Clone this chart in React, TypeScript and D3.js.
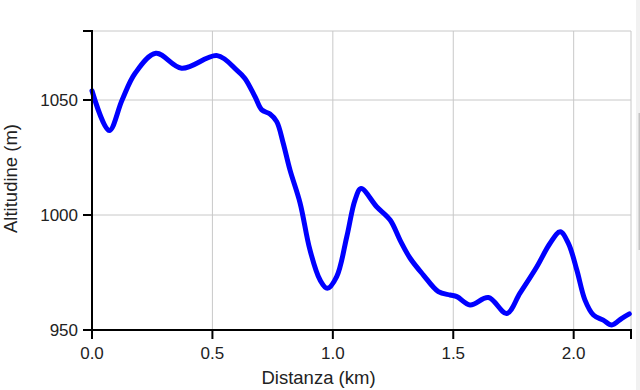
import React from "react";
import * as d3 from "d3";

const distanceKm = [0, 0.071, 0.125, 0.179, 0.265, 0.372, 0.52, 0.601, 0.635, 0.677, 0.705, 0.739, 0.767, 0.794, 0.822, 0.864, 0.905, 0.947, 0.977, 1.016, 1.058, 1.092, 1.117, 1.182, 1.238, 1.279, 1.321, 1.376, 1.438, 1.487, 1.515, 1.57, 1.646, 1.722, 1.777, 1.847, 1.902, 1.944, 1.978, 2.013, 2.047, 2.082, 2.123, 2.158, 2.2, 2.231];
const altitudeM = [1054, 1036.7, 1050, 1061.6, 1070.3, 1063.8, 1069.3, 1063, 1059.4, 1051.4, 1045.7, 1043.9, 1040.6, 1031.2, 1019.6, 1005.2, 984.8, 971.7, 968.1, 973.2, 990.6, 1006.5, 1011.5, 1003.6, 997.8, 989.1, 981.2, 973.9, 966.7, 965.2, 964.5, 960.9, 964.1, 957.2, 966, 977.5, 987.7, 992.7, 987.7, 976.1, 963, 956.5, 954.3, 952.2, 955.1, 957];
const xTicks = [0, 0.5, 1.0, 1.5, 2.0];
const yTicks = [950, 1000, 1050];
const xLabel = "Distanza (km)";
const yLabel = "Altitudine (m)";

const W = 640, H = 390;
const M = { left: 92, right: 9, top: 31, bottom: 60 };

export default function App() {
  const x = d3.scaleLinear().domain([0, 2.238]).range([M.left, W - M.right]);
  const y = d3.scaleLinear().domain([950, 1080]).range([H - M.bottom, M.top]);
  const pts = distanceKm.map((d, i) => [d, altitudeM[i]] as [number, number]);
  const line = d3.line<[number, number]>().x(d => x(d[0])).y(d => y(d[1])).curve(d3.curveCatmullRom.alpha(0.5));
  const x0 = M.left, x1 = W - M.right, y0 = H - M.bottom, y1 = M.top;
  const font = "Arial, 'Liberation Sans', sans-serif";
  const grid = "#c8c8c8";
  return (
    <svg width={W} height={H} style={{ position: "absolute", left: 0, top: 0, background: "#fff" }} fontFamily={font}>
      {xTicks.map(t => <line key={"gx" + t} x1={x(t)} x2={x(t)} y1={y0} y2={y1} stroke={grid} strokeWidth={1} />)}
      <line x1={x1} x2={x1} y1={y0} y2={y1} stroke={grid} strokeWidth={1} />
      {yTicks.map(t => <line key={"gy" + t} x1={x0} x2={x1} y1={y(t)} y2={y(t)} stroke={grid} strokeWidth={1} />)}
      <line x1={x0} x2={x1} y1={y1} y2={y1} stroke={grid} strokeWidth={1} />
      <path d={line(pts) || ""} fill="none" stroke="#0000ff" strokeWidth={5} strokeLinejoin="round" strokeLinecap="round" />
      <path d={`M${x0 - 9},${y1}H${x0}V${y0}H${x0 - 9}`} fill="none" stroke="#000" strokeWidth={2} />
      {yTicks.map(t => (
        <g key={"ty" + t}>
          <line x1={x0 - 9} x2={x0} y1={y(t)} y2={y(t)} stroke="#000" strokeWidth={2} />
          <text x={x0 - 14} y={y(t)} dy="0.35em" textAnchor="end" fontSize={17} fill="#222">{t}</text>
        </g>
      ))}
      <path d={`M${x0},${y0 + 9}V${y0}H${x1}V${y0 + 9}`} fill="none" stroke="#000" strokeWidth={2} />
      {xTicks.map(t => (
        <g key={"tx" + t}>
          <line x1={x(t)} x2={x(t)} y1={y0} y2={y0 + 9} stroke="#000" strokeWidth={2} />
          <text x={x(t)} y={359} textAnchor="middle" fontSize={17} fill="#222">{t.toFixed(1)}</text>
        </g>
      ))}
      <text x={(x0 + x1) / 2 - 43} y={384} textAnchor="middle" fontSize={18.5} fill="#222">{xLabel}</text>
      <text transform={`translate(17,${(y0 + y1) / 2 - 2}) rotate(-90)`} textAnchor="middle" fontSize={18.5} fill="#222">{yLabel}</text>
      <rect x={636} y={0} width={4} height={H} fill="#f1f1f1" />
      <rect x={638.5} y={113} width={1.5} height={137} fill="#c4c4c4" />
    </svg>
  );
}
